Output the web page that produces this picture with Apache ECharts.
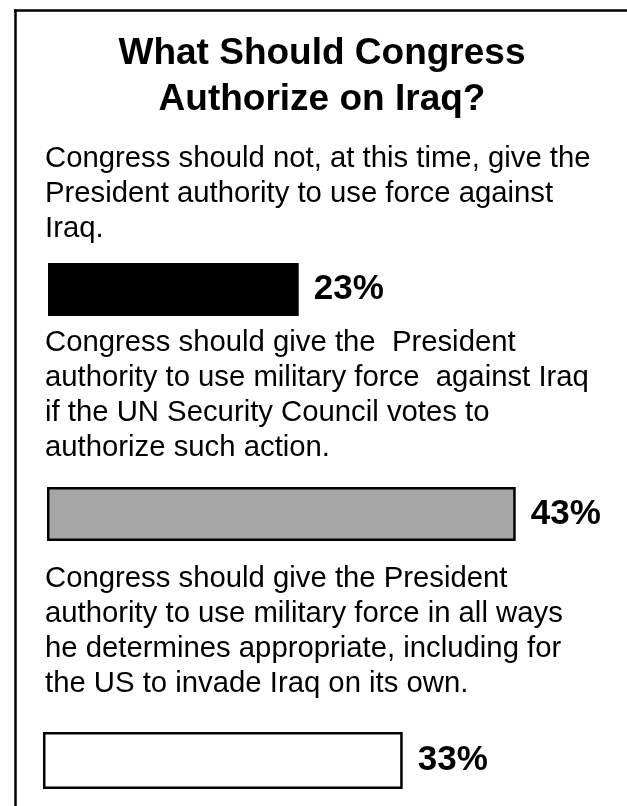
<!DOCTYPE html>
<html>
<head>
<meta charset="utf-8">
<title>What Should Congress Authorize on Iraq?</title>
<script src="https://cdn.jsdelivr.net/npm/echarts@6/dist/echarts.min.js"></script>
<style>
  html, body { margin: 0; padding: 0; background: #ffffff; }
  #chart { width: 627px; height: 806px; }
</style>
</head>
<body>
<div id="chart"></div>
<script>
// Poll question and the three answer options
const titleLines = ['What Should Congress', 'Authorize on Iraq?'];

const optionTexts = [
  ['Congress should not, at this time, give the',
   'President authority to use force against',
   'Iraq.'],
  ['Congress should give the  President',
   'authority to use military force  against Iraq',
   'if the UN Security Council votes to',
   'authorize such action.'],
  ['Congress should give the President',
   'authority to use military force in all ways',
   'he determines appropriate, including for',
   'the US to invade Iraq on its own.']
];

// Share of respondents choosing each option (%)
const shares = [23, 43, 33];
const shareLabels = ['23%', '43%', '33%'];

// Bar appearance per option
const barFills = ['#000000', '#a6a6a6', '#ffffff'];

const FONT = '"Liberation Sans", Arial, Helvetica, sans-serif';
const SCALE_MAX = 50;            // value axis runs 0..50 %
const PX_PER_UNIT = 10.9;        // horizontal scale, px per %

// Layout of each answer block: text top, bar rectangle
const blockLayout = [
  { textTop: 141, barTop: 263, barHeight: 53, barLeft: 48 },
  { textTop: 325, barTop: 487, barHeight: 54, barLeft: 47 },
  { textTop: 561, barTop: 732, barHeight: 57, barLeft: 43 }
];

const chart = echarts.init(document.getElementById('chart'), null, { renderer: 'canvas' });

const grids = [], xAxes = [], yAxes = [], series = [];
shares.forEach((v, i) => {
  const L = blockLayout[i];
  grids.push({
    left: L.barLeft, top: L.barTop,
    width: SCALE_MAX * PX_PER_UNIT, height: L.barHeight,
    containLabel: false
  });
  xAxes.push({
    type: 'value', gridIndex: i, min: 0, max: SCALE_MAX, show: false
  });
  yAxes.push({
    type: 'category', gridIndex: i, data: ['option' + (i + 1)], show: false
  });
  series.push({
    type: 'bar',
    xAxisIndex: i, yAxisIndex: i,
    data: [v],
    barWidth: '100%',
    silent: true,
    itemStyle: {
      color: barFills[i],
      borderColor: '#000000',
      borderWidth: i === 0 ? 0 : 2.5
    },
    label: {
      show: true,
      position: 'right',
      distance: 15,
      formatter: () => shareLabels[i],
      color: '#000000',
      fontFamily: FONT,
      fontWeight: 'bold',
      fontSize: 35
    }
  });
});

const graphics = [];

// Frame: top rule and left rule
graphics.push({
  type: 'line', silent: true,
  shape: { x1: 14, y1: 10.5, x2: 627, y2: 10.5 },
  style: { stroke: '#000000', lineWidth: 2.5 }
});
graphics.push({
  type: 'line', silent: true,
  shape: { x1: 15.5, y1: 9.5, x2: 15.5, y2: 806 },
  style: { stroke: '#000000', lineWidth: 2.5 }
});

// Title
graphics.push({
  type: 'text', silent: true,
  x: 322, y: 31,
  style: {
    text: titleLines.join('\n'),
    fill: '#000000',
    font: 'bold 37px ' + FONT,
    lineHeight: 46,
    align: 'center',
    verticalAlign: 'top'
  }
});

// Answer texts
optionTexts.forEach((lines, i) => {
  graphics.push({
    type: 'text', silent: true,
    x: 45, y: blockLayout[i].textTop,
    style: {
      text: lines.join('\n'),
      fill: '#000000',
      font: '29.3px ' + FONT,
      lineHeight: 35,
      align: 'left',
      verticalAlign: 'top'
    }
  });
});

chart.setOption({
  backgroundColor: '#ffffff',
  animation: false,
  grid: grids,
  xAxis: xAxes,
  yAxis: yAxes,
  series: series,
  graphic: graphics
});
</script>
</body>
</html>
